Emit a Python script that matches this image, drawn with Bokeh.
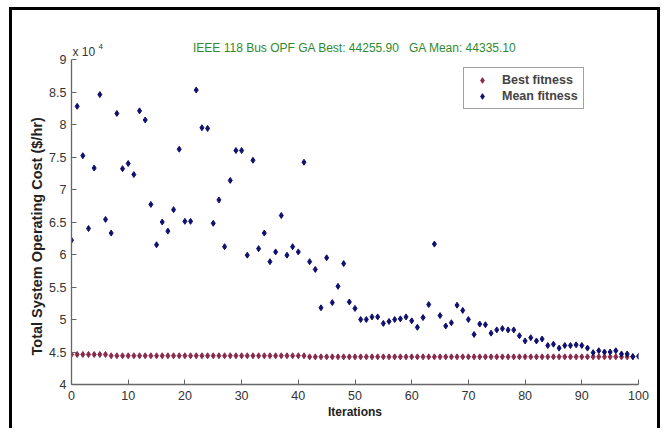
from bokeh.plotting import figure
from bokeh.models import FixedTicker, NumeralTickFormatter, Label, Legend, LegendItem, Title
from bokeh.embed import file_html
from bokeh.resources import INLINE

# ---- data ----
iterations = list(range(0, 101))

best_fitness = [44620] * 7 + [44420] * 35 + [44256] * 58
best_fitness[-1] = 44255.90

mean_fitness = [
    62200, 82800, 75200, 64000, 73300, 84600, 65400, 63300, 81700, 73200,
    74000, 72300, 82100, 80700, 67700, 61500, 65000, 63600, 66900, 76200,
    65100, 65100, 85300, 79500, 79400, 64800, 68400, 61200, 71400, 76000,
    76000, 59900, 74500, 60900, 63300, 58900, 60400, 66000, 59900, 61200,
    60400, 74200, 58900, 57700, 51800, 59500, 52600, 55100, 58600, 52700,
    51700, 50000, 50000, 50400, 50400, 49400, 49700, 50000, 50100, 50400,
    49800, 48800, 50300, 52300, 61600, 50600, 49000, 49500, 52200, 51400,
    50000, 47700, 49300, 49200, 47900, 48400, 48600, 48400, 48400, 47500,
    46700, 47200, 46700, 47000, 46000, 46200, 45600, 46000, 46000, 46100,
    46000, 45600, 44900, 45200, 45000, 45000, 45200, 44700, 44700, 44300,
    44335.10,
]

y_ticks = [4, 4.5, 5, 5.5, 6, 6.5, 7, 7.5, 8, 8.5, 9]
x_ticks = [0, 10, 20, 30, 40, 50, 60, 70, 80, 90, 100]
NB = "\u00a0"
title_text = "IEEE 118 Bus OPF GA Best: 44255.90" + NB * 3 + "GA Mean: 44335.10"
y_label_text = "Total System Operating Cost ($/hr)"

FONT = "Liberation Sans"
scale = 1e4

# frame extends above y=9 so that the title and the exponent label sit inside it;
# the axis itself is bounded to 4..9
p = figure(
    frame_width=567, frame_height=354,
    x_range=(0, 100), y_range=(4, 4 + 354 / 65),
    output_backend="svg", toolbar_location=None,
    min_border_left=59, min_border_right=19,
    min_border_top=20, min_border_bottom=44,
)
p.styles = {"border-left": "3px solid black", "border-top": "3px solid black",
            "border-right": "3px solid black",
            "margin-left": "9px", "margin-top": "7px"}
p.title.text = ""

p.grid.visible = False
p.outline_line_color = None

for ax in (p.xaxis[0], p.yaxis[0]):
    ax.axis_line_color = "#666666"
    ax.axis_line_width = 1.3
    ax.major_tick_line_color = "#666666"
    ax.major_tick_in = 5
    ax.major_tick_out = 0
    ax.minor_tick_line_color = None
    ax.major_label_text_font = FONT
    ax.major_label_text_font_size = "12.5px"
    ax.major_label_text_color = "#333333"
    ax.axis_label_text_font = FONT
    ax.axis_label_text_font_style = "bold"
    ax.axis_label_text_color = "#222222"

p.xaxis.axis_label_text_font_size = "12px"
p.yaxis.bounds = (4, 9)

p.xaxis.ticker = FixedTicker(ticks=x_ticks)
p.yaxis.ticker = FixedTicker(ticks=y_ticks)
p.yaxis.formatter = NumeralTickFormatter(format="0.[0]")
p.xaxis.axis_label = "Iterations"
p.xaxis.major_label_standoff = 6
p.xaxis.axis_label_standoff = 2
p.yaxis.major_label_standoff = 5

# y-axis title as a rotated side title, starting ~29px above the frame bottom
ytitle = Title(text=y_label_text, align="left", offset=29, standoff=4,
               text_font=FONT, text_font_size="14.5px", text_font_style="bold",
               text_color="#222222")
p.add_layout(ytitle, "left")

best_y = [v / scale for v in best_fitness]
mean_y = [v / scale for v in mean_fitness]

r_best = p.scatter(iterations, best_y, marker="diamond", size=6,
                   fill_color="#8a2a4a", line_color="#8a2a4a")
r_mean = p.scatter(iterations, mean_y, marker="diamond", size=6,
                   fill_color="#10106e", line_color="#10106e")

legend = Legend(items=[LegendItem(label="Best fitness", renderers=[r_best]),
                       LegendItem(label="Mean fitness", renderers=[r_mean])],
                location=(392, 275))
legend.margin = 0
legend.padding = 5
legend.spacing = 2
legend.glyph_height = 14
legend.label_height = 14
legend.glyph_width = 26
legend.label_standoff = 7
legend.label_text_font = FONT
legend.label_text_font_size = "12.5px"
legend.label_text_font_style = "bold"
legend.border_line_color = "#444444"
legend.border_line_width = 1
p.add_layout(legend, "center")

# chart title (inside the extended frame, above y = 9)
p.add_layout(Label(x=50, y=9.17, text=title_text, text_font=FONT,
                   text_font_size="12px", text_color="#2f8a2f",
                   text_align="center", text_baseline="alphabetic"))

# exponent label "x 10^4"
p.add_layout(Label(x=0, y=9.112, x_offset=1, text="x 10",
                   text_font=FONT, text_font_size="12px", text_color="#333333",
                   text_baseline="alphabetic", text_align="left"))
p.add_layout(Label(x=0, y=9.2, x_offset=27, text="4",
                   text_font=FONT, text_font_size="8px", text_color="#333333",
                   text_baseline="alphabetic", text_align="left"))

open("out.html", "w").write(file_html(p, INLINE))
